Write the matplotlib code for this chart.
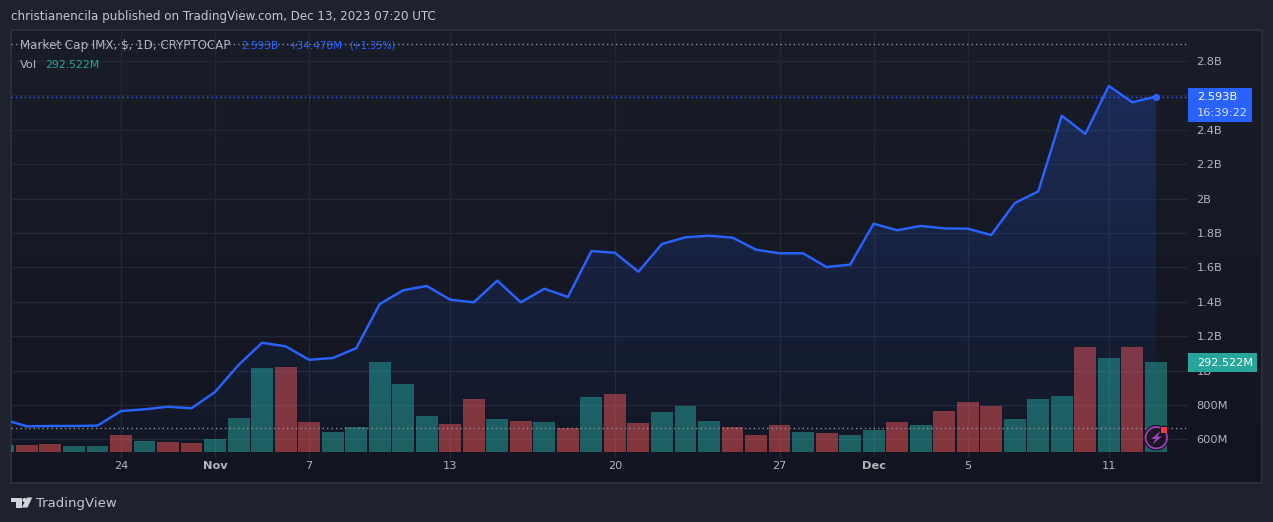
import numpy as np
import matplotlib
matplotlib.use("Agg")
import matplotlib.pyplot as plt
from matplotlib.patches import Rectangle, Polygon, Circle
from matplotlib.transforms import Bbox, IdentityTransform, TransformedBbox

# ---- data -------------------------------------------------------------
price_b = [0.716, 0.676, 0.678, 0.678, 0.680, 0.765, 0.775, 0.790, 0.781, 0.876,
           1.033, 1.162, 1.141, 1.063, 1.073, 1.130, 1.387, 1.467, 1.492, 1.412,
           1.397, 1.523, 1.397, 1.476, 1.428, 1.695, 1.685, 1.575, 1.736, 1.775,
           1.784, 1.773, 1.703, 1.682, 1.682, 1.602, 1.616, 1.854, 1.816, 1.841,
           1.827, 1.825, 1.788, 1.974, 2.042, 2.482, 2.376, 2.655, 2.560, 2.593]
volume_m = [23, 22, 25, 19, 19, 54, 35, 32, 28, 41,
            110, 274, 277, 97, 64, 81, 292, 221, 116, 90,
            172, 107, 100, 97, 77, 178, 189, 95, 130, 150,
            101, 82, 55, 88, 65, 62, 55, 71, 97, 87,
            133, 162, 149, 107, 172, 182, 341, 305, 341, 292.5]
vol_up = [1, 0, 0, 1, 1, 0, 1, 0, 0, 1,
          1, 1, 0, 0, 1, 1, 1, 1, 1, 0,
          0, 1, 0, 1, 0, 1, 0, 0, 1, 1,
          1, 0, 0, 0, 1, 0, 1, 1, 0, 1,
          0, 0, 0, 1, 1, 1, 0, 1, 0, 1]
first_index = -1
date_ticks = [4, 8, 12, 18, 25, 32, 36, 40, 46]
date_labels = ['24', 'Nov', '7', '13', '20', '27', 'Dec', '5', '11']
date_bold = ['Nov', 'Dec']
price_ticks = [0.6, 0.8, 1.0, 1.2, 1.4, 1.6, 1.8, 2.0, 2.2, 2.4, 2.6, 2.8]
price_tick_labels = ['600M', '800M', '1B', '1.2B', '1.4B', '1.6B', '1.8B', '2B',
                     '2.2B', '2.4B', '', '2.8B']
visible_high = 2.899
visible_low = 0.665

# ---- style ------------------------------------------------------------
W, H = 1273, 522
OUTER = '#1e222d'
BORDER = '#2a2e39'
GRID = '#232733'
BLUE = '#2962ff'
TEAL = '#26a69a'
RED = '#ef5350'
TXT = '#b2b5be'
plt.rcParams['font.family'] = 'DejaVu Sans'

fig = plt.figure(figsize=(W / 100, H / 100), dpi=100, facecolor=OUTER)

def px_axes(x0, y0, x1, y1, z):
    return fig.add_axes([x0 / W, 1 - y1 / H, (x1 - x0) / W, (y1 - y0) / H], zorder=z)

# background in pixel coordinates
bg = px_axes(0, 0, W, H, 0)
bg.axis('off')
grad = np.linspace(0, 1, 256).reshape(-1, 1)
c_top = np.array([0x19, 0x1d, 0x28]) / 255
c_bot = np.array([0x12, 0x15, 0x1f]) / 255
rgb = c_top[None, None, :] * (1 - grad[..., None]) + c_bot[None, None, :] * grad[..., None]
bg.imshow(rgb, extent=(11, 1262, 483, 30), aspect='auto', zorder=1)
bg.set_xlim(0, W); bg.set_ylim(H, 0)
bg.add_patch(Rectangle((10.5, 30), 1251.5, 453, fill=False, ec=BORDER, lw=1.5, zorder=2))

# main axes geometry
L, R, T, B = 11, 1188, 32, 458
x_of_i = lambda px: (px - 26.9) / 23.52
y_of_p = lambda px: 2.8 - (px - 61) / 172
xlim = (x_of_i(L), x_of_i(R))
ylim = (y_of_p(B), y_of_p(T))

idx = np.arange(first_index, first_index + len(price_b))
price = np.array(price_b)
vol = np.array(volume_m)

# grid and scales (below the bars)
ax = px_axes(L, T, R, B, 1)
ax.patch.set_visible(False)
ax.set_axisbelow(True)
ax.grid(True, color=GRID, lw=1)
for s in ax.spines.values():
    s.set_visible(False)
ax.set_xlim(*xlim)
ax.set_ylim(*ylim)
ax.yaxis.tick_right()
ax.set_yticks(price_ticks, price_tick_labels)
ax.set_xticks(date_ticks, date_labels)
ax.tick_params(axis='both', length=0, labelsize=8.2, labelcolor=TXT)
ax.tick_params(axis='y', pad=6)
ax.tick_params(axis='x', pad=2.5)
for t in ax.get_xticklabels():
    if t.get_text() in date_bold:
        t.set_fontweight('bold')

# volume
axv = px_axes(L, T, R, B, 2)
axv.patch.set_visible(False)
colors = [TEAL if u else RED for u in vol_up]
axv.bar(idx, vol, width=0.93, color=colors, alpha=0.52, lw=0)
axv.set_xlim(*xlim)
axv.set_ylim(-(B - 452) * 3.26, (452 - T) * 3.26)
axv.axis('off')

# price line
axl = px_axes(L, T, R, B, 3)
axl.axis('off')
fill = np.linspace(0, 1, 256).reshape(-1, 1)
rgba = np.zeros((256, 1, 4))
rgba[..., :3] = matplotlib.colors.to_rgb(BLUE)
rgba[..., 3] = (0.23 - 0.21 * fill)[:, 0].reshape(-1, 1)
im = axl.imshow(rgba, extent=(idx[0], idx[-1], y_of_p(B), price.max()), aspect='auto',
                origin='upper', zorder=1.5)
poly = np.vstack([np.column_stack([idx, price]),
                  [idx[-1], y_of_p(B)], [idx[0], y_of_p(B)]])
im.set_clip_path(Polygon(poly, transform=axl.transData))
axl.plot(idx, price, color=BLUE, lw=1.75, solid_joinstyle='round', zorder=3)
axl.plot(idx[-1], price[-1], 'o', color=BLUE, ms=5.2, mew=0, zorder=3)
for val, col in [(visible_high, '#8d909a'), (visible_low, '#8d909a'), (price[-1], BLUE)]:
    axl.axhline(val, color=col, lw=1.0, dashes=(1, 2.2), zorder=2.5)
axl.set_xlim(*xlim)
axl.set_ylim(*ylim)

# overlay in pixel coordinates
top = px_axes(0, 0, W, H, 5)
top.set_xlim(0, W); top.set_ylim(H, 0); top.axis('off')

def txt(x, y, s, color=TXT, size=8.2, **kw):
    return top.text(x, y, s, color=color, fontsize=size, va='center', ha='left', **kw)

txt(11, 16.5, 'christianencila published on TradingView.com, Dec 13, 2023 07:20 UTC',
    color='#c4c7cf', size=8.57)
txt(20, 46, 'Market Cap IMX, $, 1D, CRYPTOCAP', size=8.55)
txt(241, 46, '2.593B', color=BLUE, size=7.6)
txt(289, 46, '+34.478M', color=BLUE, size=7.5)
txt(349, 46, '(+1.35%)', color=BLUE, size=7.0)
txt(20, 65, 'Vol', size=8.2)
txt(45, 65, '292.522M', color=TEAL, size=7.9)

# clipped partial date label at the left edge
clip = txt(-2, 467, '17', size=8.2)
clip.set_clip_box(TransformedBbox(Bbox([[11, 0], [1188, H]]), IdentityTransform()))
clip.set_clip_on(True)

# last value badges
top.add_patch(Rectangle((1188, 88), 64, 34, fc=BLUE, ec='none', zorder=4))
txt(1197, 97.5, '2.593B', color='white', size=8.2, zorder=5)
txt(1197, 113, '16:39:22', color='#d5dfff', size=8.2, zorder=5)
top.add_patch(Rectangle((1188, 353), 69, 19, fc=TEAL, ec='none', zorder=4))
txt(1197, 362.5, '292.522M', color='white', size=8.0, zorder=5)

# lightning icon
top.add_patch(Circle((1156.3, 437.7), 12.8, fc='#131722', ec='none', zorder=6))
top.add_patch(Circle((1156.3, 437.7), 10.7, fc='#1a1724', ec='#a040b4', lw=1.3, zorder=7))
top.add_patch(Polygon([(1160.5, 431), (1151, 439), (1155.5, 439), (1152.5, 444.5),
                       (1162, 436.5), (1157.5, 436.5)], fc='#a040b4', ec='none', zorder=8))
top.add_patch(Circle((1164, 429.8), 4.2, fc='#131722', ec='none', zorder=8.5))
top.add_patch(Rectangle((1161.3, 427.1), 5.4, 5.4, fc='#f23645', ec='none', zorder=9))

# TradingView logo
logo = '#d1d4dc'
top.add_patch(Polygon([(11, 497.5), (21.5, 497.5), (21.5, 507.5), (16, 507.5), (16, 502), (11, 502)],
                      fc=logo, ec='none'))
top.add_patch(Circle((24.5, 500), 2.1, fc=logo, ec='none'))
top.add_patch(Polygon([(27, 497.5), (32.3, 497.5), (27.5, 507.5), (21.8, 507.5)], fc=logo, ec='none'))
txt(36, 503, 'TradingView', color='#c4c7cf', size=9.5)

fig.savefig('out.png', dpi=100, facecolor=OUTER)
